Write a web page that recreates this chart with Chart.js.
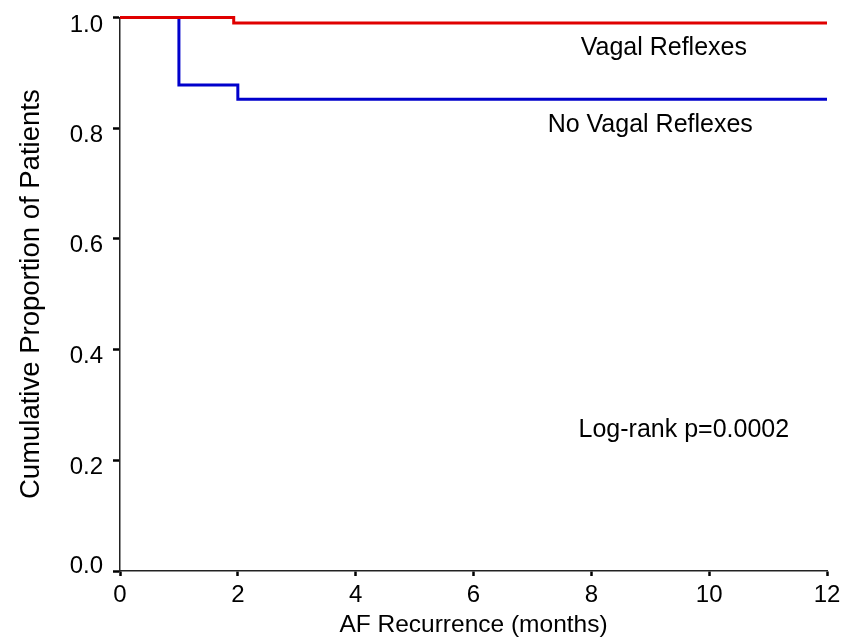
<!DOCTYPE html>
<html>
<head>
<meta charset="utf-8">
<script src="https://cdn.jsdelivr.net/npm/chart.js@4.4.1/dist/chart.umd.min.js"></script>
<style>
  body { margin: 0; background: #fff; }
  canvas { display: block; }
</style>
</head>
<body>
<canvas id="myChart" width="854" height="640"></canvas>
<script>
// Kaplan-Meier style step data
var vagalMonths = [0, 1.93, 12];
var vagalSurv = [1.0, 0.99, 0.99];
var noVagalMonths = [0, 1.0, 2.0, 12];
var noVagalSurv = [1.0, 0.878, 0.852, 0.852];

var xTicks = [0, 2, 4, 6, 8, 10, 12];
var yTicks = [0.0, 0.2, 0.4, 0.6, 0.8, 1.0];

var seriesNames = ["Vagal Reflexes", "No Vagal Reflexes"];
var noteText = "Log-rank p=0.0002";

var FONT = "'Liberation Sans', Arial, Helvetica, sans-serif";

function toPoints(xs, ys) {
  return xs.map(function(x, i) { return { x: x, y: ys[i] }; });
}

// draws y tick labels (slightly offset like the original) and text notes
var textPlugin = {
  id: "texts",
  afterDraw: function(chart) {
    var ctx = chart.ctx;
    var xs = chart.scales.x;
    var ys = chart.scales.y;
    ctx.save();
    ctx.fillStyle = "#000";
    ctx.font = "24px " + FONT;
    ctx.textAlign = "right";
    ctx.textBaseline = "alphabetic";
    yTicks.forEach(function(v) {
      var off = 5;
      if (v === 0) off = -6.5;
      if (v === 1) off = 6;
      var py = ys.getPixelForValue(v) + off + 8.6;
      ctx.fillText(v.toFixed(1), 103, py);
    });
    ctx.font = "25px " + FONT;
    ctx.textAlign = "center";
    ctx.fillText(seriesNames[0], xs.getPixelForValue(9.23), ys.getPixelForValue(0.932));
    ctx.fillText(seriesNames[1], xs.getPixelForValue(9.0), ys.getPixelForValue(0.793));
    ctx.fillText(noteText, xs.getPixelForValue(9.57), ys.getPixelForValue(0.2416));
    ctx.restore();
  }
};

const ctx = document.getElementById("myChart").getContext("2d");
var chart = new Chart(ctx, {
  type: "line",
  data: {
    datasets: [
      {
        label: seriesNames[0],
        data: toPoints(vagalMonths, vagalSurv),
        borderColor: "#e00000",
        backgroundColor: "#e00000",
        borderWidth: 3,
        stepped: true,
        pointRadius: 0,
        clip: false,
        fill: false
      },
      {
        label: seriesNames[1],
        data: toPoints(noVagalMonths, noVagalSurv),
        borderColor: "#0000cc",
        backgroundColor: "#0000cc",
        borderWidth: 3,
        stepped: true,
        pointRadius: 0,
        clip: false,
        fill: false
      }
    ]
  },
  options: {
    responsive: false,
    animation: false,
    layout: { padding: { top: 15, right: 27, left: 0, bottom: 0 } },
    plugins: {
      legend: { display: false },
      tooltip: { enabled: false }
    },
    scales: {
      x: {
        type: "linear",
        min: 0,
        max: 12,
        afterBuildTicks: function(scale) {
          scale.ticks = xTicks.map(function(v) { return { value: v }; });
        },
        afterFit: function(scale) { scale.height = 69; },
        grid: {
          drawOnChartArea: false,
          drawTicks: true,
          tickLength: 5,
          tickWidth: 2.5,
          tickColor: "#000"
        },
        border: { display: true, color: "#222", width: 1.5 },
        ticks: {
          color: "#000",
          padding: 5,
          maxRotation: 0,
          font: { family: FONT, size: 24 }
        },
        title: {
          display: true,
          text: "AF Recurrence (months)",
          color: "#000",
          font: { family: FONT, size: 24.5 },
          padding: { top: 0, bottom: 0 }
        }
      },
      y: {
        type: "linear",
        min: 0,
        max: 1,
        afterBuildTicks: function(scale) {
          scale.ticks = yTicks.map(function(v) { return { value: v }; });
        },
        afterFit: function(scale) { scale.width = 120; },
        grid: {
          drawOnChartArea: false,
          drawTicks: true,
          tickLength: 7,
          tickWidth: 2.5,
          tickColor: "#000"
        },
        border: { display: true, color: "#222", width: 1.5 },
        ticks: {
          color: "rgba(0,0,0,0)",
          font: { family: FONT, size: 24 },
          callback: function(v) { return Number(v).toFixed(1); }
        },
        title: {
          display: true,
          text: "Cumulative Proportion of Patients",
          color: "#000",
          font: { family: FONT, size: 27.5 },
          padding: { top: 15, bottom: 0 }
        }
      }
    }
  },
  plugins: [textPlugin]
});
</script>
</body>
</html>
